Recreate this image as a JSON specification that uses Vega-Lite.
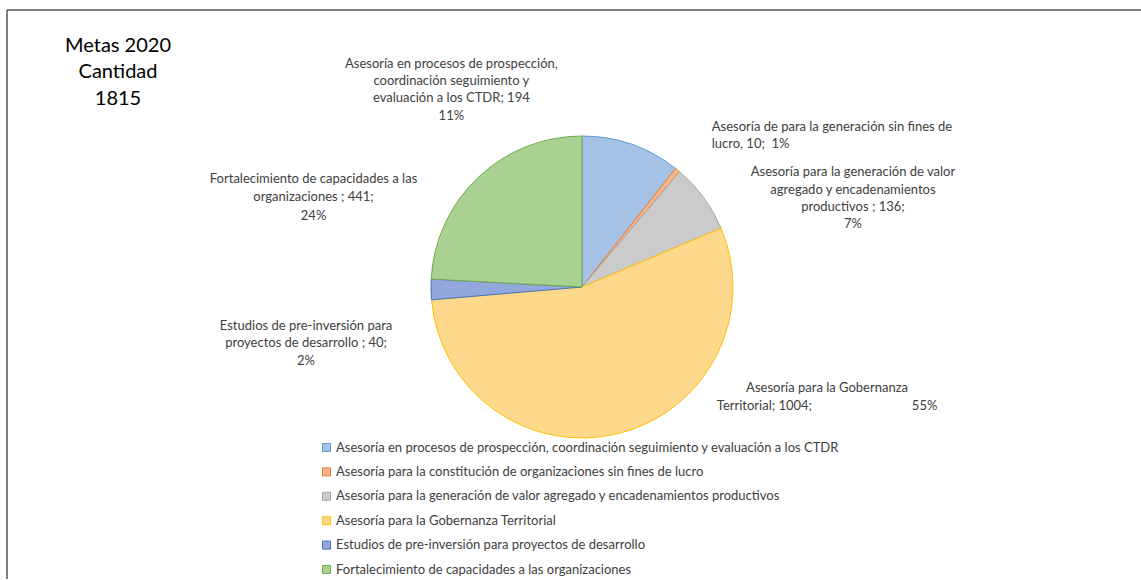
{
  "$schema": "https://vega.github.io/schema/vega-lite/v6.json",
  "width": 1134,
  "height": 569,
  "autosize": {"type": "none"},
  "padding": {"left": 7, "top": 10, "right": 0, "bottom": 1},
  "background": "white",
  "view": {"stroke": "#555555", "strokeWidth": 1.5, "strokeDash": [1134, 1703, 569, 0]},
  "config": {
    "font": "Lato"
  },
  "title": {
    "text": ["Metas 2020", "Cantidad", "1815"],
    "anchor": "start",
    "frame": "group",
    "align": "center",
    "baseline": "middle",
    "offset": 0,
    "dx": 111,
    "dy": 109,
    "fontSize": 20,
    "font": "Lato",
    "fontWeight": "normal",
    "color": "#000000",
    "lineHeight": 26.7
  },
  "data": {
    "values": [
      {"categoria": "Asesoría en procesos de prospección, coordinación seguimiento y evaluación a los CTDR", "cantidad": 194, "orden": 1, "etiqueta": "Asesoría en procesos de prospección,\ncoordinación seguimiento y\nevaluación a los CTDR; 194\n11%"},
      {"categoria": "Asesoría para la constitución de organizaciones sin fines de lucro", "cantidad": 10, "orden": 2, "etiqueta": "Asesoría de para la generación sin fines de\nlucro, 10;\u00a0 1%"},
      {"categoria": "Asesoría para la generación de valor agregado y encadenamientos productivos", "cantidad": 136, "orden": 3, "etiqueta": "Asesoría para la generación de valor\nagregado y encadenamientos\nproductivos ; 136;\n7%"},
      {"categoria": "Asesoría para la Gobernanza Territorial", "cantidad": 1004, "orden": 4, "etiqueta": "Asesoría para la Gobernanza\nTerritorial; 1004;\u00a0\u00a0\u00a0\u00a0\u00a0\u00a0\u00a0\u00a0\u00a0\u00a0\u00a0\u00a0\u00a0\u00a0\u00a0\u00a0\u00a0\u00a0\u00a0\u00a0\u00a0\u00a0\u00a0\u00a0\u00a0\u00a0\u00a0\u00a0\u00a0\u00a055%"},
      {"categoria": "Estudios de pre-inversión para proyectos de desarrollo", "cantidad": 40, "orden": 5, "etiqueta": "Estudios de pre-inversión para\nproyectos de desarrollo ; 40;\n2%"},
      {"categoria": "Fortalecimiento de capacidades a las organizaciones", "cantidad": 441, "orden": 6, "etiqueta": "Fortalecimiento de capacidades a las\norganizaciones ; 441;\n24%"}
    ]
  },
  "encoding": {
    "theta": {"field": "cantidad", "type": "quantitative", "stack": true},
    "order": {"field": "orden", "type": "quantitative"}
  },
  "layer": [
    {
      "mark": {"type": "arc", "radius": 151, "xOffset": 8, "yOffset": -7.5, "strokeWidth": 1},
      "encoding": {
        "fill": {
          "field": "categoria", "type": "nominal",
          "scale": {
            "domain": [
              "Asesoría en procesos de prospección, coordinación seguimiento y evaluación a los CTDR",
              "Asesoría para la constitución de organizaciones sin fines de lucro",
              "Asesoría para la generación de valor agregado y encadenamientos productivos",
              "Asesoría para la Gobernanza Territorial",
              "Estudios de pre-inversión para proyectos de desarrollo",
              "Fortalecimiento de capacidades a las organizaciones"
            ],
            "range": ["#a6c3e7", "#f7b48a", "#cbcbcb", "#fed98b", "#92a8dd", "#a9d192"]
          },
          "legend": {
            "orient": "none", "legendX": 313, "legendY": 431, "title": null,
            "symbolType": "square", "symbolSize": 64, "symbolStrokeWidth": 1,
            "labelFontSize": 13, "labelFont": "Lato", "labelColor": "#404040",
            "labelLimit": 0, "rowPadding": 10.4, "labelOffset": 3
          }
        },
        "stroke": {
          "field": "categoria", "type": "nominal",
          "scale": {
            "domain": [
              "Asesoría en procesos de prospección, coordinación seguimiento y evaluación a los CTDR",
              "Asesoría para la constitución de organizaciones sin fines de lucro",
              "Asesoría para la generación de valor agregado y encadenamientos productivos",
              "Asesoría para la Gobernanza Territorial",
              "Estudios de pre-inversión para proyectos de desarrollo",
              "Fortalecimiento de capacidades a las organizaciones"
            ],
            "range": ["#5b9bd5", "#ed7d31", "#a5a5a5", "#ffc000", "#4472c4", "#70ad47"]
          },
          "legend": {
            "orient": "none", "legendX": 313, "legendY": 431, "title": null,
            "symbolType": "square", "symbolSize": 64, "symbolStrokeWidth": 1,
            "labelFontSize": 13, "labelFont": "Lato", "labelColor": "#404040",
            "labelLimit": 0, "rowPadding": 10.4, "labelOffset": 3
          }
        }
      }
    },
    {
      "mark": {"type": "text", "radius": 175, "xOffset": 8, "yOffset": -7.5, "dx": -188, "dy": -58, "align": "center", "baseline": "middle", "lineBreak": "\n", "lineHeight": 17.3, "fontSize": 13, "font": "Lato", "color": "#404040"},
      "encoding": {"text": {"condition": {"test": "datum.orden === 1", "field": "etiqueta"}, "value": ""}}
    },
    {
      "mark": {"type": "text", "radius": 175, "xOffset": 8, "yOffset": -7.5, "dx": 19, "dy": -24, "align": "left", "baseline": "middle", "lineBreak": "\n", "lineHeight": 16.7, "fontSize": 13, "font": "Lato", "color": "#404040"},
      "encoding": {"text": {"condition": {"test": "datum.orden === 2", "field": "etiqueta"}, "value": ""}}
    },
    {
      "mark": {"type": "text", "radius": 175, "xOffset": 8, "yOffset": -7.5, "dx": 130, "dy": -11, "align": "center", "baseline": "middle", "lineBreak": "\n", "lineHeight": 17.3, "fontSize": 13, "font": "Lato", "color": "#404040"},
      "encoding": {"text": {"condition": {"test": "datum.orden === 3", "field": "etiqueta"}, "value": ""}}
    },
    {
      "mark": {"type": "text", "radius": 175, "xOffset": 8, "yOffset": -7.5, "dx": 203, "dy": -69, "align": "center", "baseline": "middle", "lineBreak": "\n", "lineHeight": 18, "fontSize": 13, "font": "Lato", "color": "#404040"},
      "encoding": {"text": {"condition": {"test": "datum.orden === 4", "field": "etiqueta"}, "value": ""}}
    },
    {
      "mark": {"type": "text", "radius": 175, "xOffset": 8, "yOffset": -7.5, "dx": -101, "dy": 36, "align": "center", "baseline": "middle", "lineBreak": "\n", "lineHeight": 17.5, "fontSize": 13, "font": "Lato", "color": "#404040"},
      "encoding": {"text": {"condition": {"test": "datum.orden === 5", "field": "etiqueta"}, "value": ""}}
    },
    {
      "mark": {"type": "text", "radius": 175, "xOffset": 8, "yOffset": -7.5, "dx": -148, "dy": 19, "align": "center", "baseline": "middle", "lineBreak": "\n", "lineHeight": 18.3, "fontSize": 13, "font": "Lato", "color": "#404040"},
      "encoding": {"text": {"condition": {"test": "datum.orden === 6", "field": "etiqueta"}, "value": ""}}
    }
  ]
}
